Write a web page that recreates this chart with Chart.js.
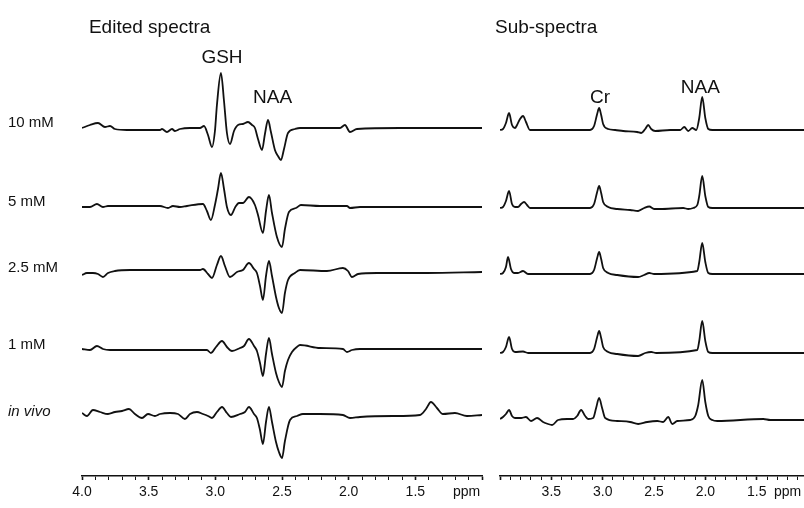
<!DOCTYPE html>
<html>
<head>
<meta charset="utf-8">
<script src="https://cdn.jsdelivr.net/npm/chart.js@4.4.1/dist/chart.umd.min.js"></script>
<style>
  body { margin: 0; background: #fff; }
  #wrap { position: relative; width: 804px; height: 508px; }
  #edited { position: absolute; left: 0; top: 0; }
  #sub { position: absolute; left: 490px; top: 0; }
</style>
</head>
<body>
<div id="wrap">
  <canvas id="edited" width="490" height="508"></canvas>
  <canvas id="sub" width="314" height="508"></canvas>
</div>
<script>
// trace names, top to bottom
const concentrations = ['10 mM', '5 mM', '2.5 mM', '1 mM', 'in vivo'];
const panelTitles = ['Edited spectra', 'Sub-spectra'];
const xTickLabels = ['4.0', '3.5', '3.0', '2.5', '2.0', '1.5'];
const unitLabel = 'ppm';

// edited spectra, [ppm, signal]
const edited10mM = [[4.000,1],[3.940,4],[3.880,6],[3.828,2],[3.790,3],[3.753,0],[3.663,-1],[3.528,-1],[3.415,-1],[3.400,0],[3.363,-3],[3.325,0],[3.303,-2],[3.265,0],[3.190,1],[3.115,1],[3.085,3],[3.055,-6],[3.025,-18],[3.003,-2],[2.988,24],[2.958,56],[2.935,28],[2.913,-4],[2.890,-15],[2.860,-2],[2.830,4],[2.793,5],[2.755,7],[2.725,4],[2.703,1],[2.680,-10],[2.650,-21],[2.628,-5],[2.605,9],[2.583,-3],[2.553,-21],[2.530,-27],[2.508,-31],[2.485,-20],[2.455,-4],[2.403,0],[2.365,1],[2.065,1],[2.028,4],[1.990,-3],[1.938,0],[1.615,1],[1.000,1]];
const edited5mM = [[4.000,0],[3.940,0],[3.888,3],[3.843,0],[3.805,1],[3.768,1],[3.640,1],[3.415,1],[3.355,-1],[3.318,1],[3.265,0],[3.213,1],[3.093,3],[3.063,-4],[3.033,-13],[3.003,2],[2.980,18],[2.958,34],[2.935,18],[2.913,0],[2.883,-8],[2.850,0],[2.823,4],[2.793,4],[2.748,10],[2.703,2],[2.680,-8],[2.643,-26],[2.620,-4],[2.598,12],[2.575,-6],[2.538,-30],[2.500,-40],[2.478,-22],[2.448,-5],[2.395,-1],[2.358,2],[2.215,1],[2.013,1],[1.990,-1],[1.915,0],[1.000,0]];
const edited2_5mM = [[4.000,-4],[3.963,-2],[3.918,-2],[3.880,-3],[3.843,-6],[3.805,-2],[3.753,0],[3.640,1],[3.415,1],[3.115,1],[3.093,2],[3.055,-3],[3.025,-7],[2.988,6],[2.958,15],[2.928,5],[2.890,-6],[2.838,-1],[2.793,1],[2.748,8],[2.710,2],[2.688,-2],[2.665,-15],[2.643,-29],[2.620,-5],[2.598,10],[2.575,-5],[2.545,-26],[2.523,-37],[2.500,-42],[2.478,-22],[2.455,-9],[2.403,-2],[2.365,1],[2.163,0],[2.043,3],[2.005,0],[1.975,-6],[1.930,-3],[1.788,-2],[1.413,-2],[1.000,-1]];
const edited1mM = [[4.000,0],[3.940,-1],[3.888,3],[3.843,0],[3.790,-1],[3.565,-1],[3.340,-1],[3.115,-1],[3.063,-1],[3.033,-4],[2.995,2],[2.950,8],[2.913,2],[2.875,-2],[2.815,1],[2.785,3],[2.748,10],[2.710,3],[2.688,-2],[2.665,-14],[2.643,-27],[2.620,-5],[2.598,11],[2.575,-5],[2.545,-24],[2.523,-33],[2.500,-38],[2.478,-22],[2.455,-11],[2.425,-3],[2.388,2],[2.365,4],[2.215,1],[2.043,0],[2.013,-3],[1.975,-1],[1.915,0],[1.000,0]];
const editedInVivo = [[4.000,1],[3.963,-2],[3.918,4],[3.865,2],[3.805,0],[3.753,2],[3.700,3],[3.648,5],[3.603,0],[3.550,-4],[3.505,0],[3.453,-2],[3.415,0],[3.340,1],[3.280,0],[3.228,-5],[3.190,0],[3.138,2],[3.093,0],[3.055,-2],[3.025,-4],[2.988,2],[2.950,7],[2.913,1],[2.883,-3],[2.815,0],[2.778,2],[2.748,7],[2.710,0],[2.688,-4],[2.665,-16],[2.643,-30],[2.620,-8],[2.598,7],[2.575,-8],[2.545,-28],[2.523,-38],[2.500,-44],[2.478,-27],[2.440,-6],[2.388,-2],[2.343,0],[2.215,0],[2.043,-1],[1.990,-4],[1.915,-3],[1.668,-2],[1.465,-1],[1.420,5],[1.383,12],[1.338,6],[1.293,0],[1.203,1],[1.113,-2],[1.000,-1]];

// sub-spectra, [ppm, signal]
const sub10mM = [[4.000,0],[3.971,1],[3.942,7],[3.912,17],[3.883,5],[3.854,2],[3.834,5],[3.805,11],[3.776,14],[3.747,8],[3.708,0],[3.610,0],[3.123,0],[3.084,4],[3.054,16],[3.035,22],[3.015,15],[2.996,6],[2.947,1],[2.879,0],[2.801,-1],[2.664,-2],[2.625,-3],[2.586,1],[2.557,5],[2.528,1],[2.489,-1],[2.343,0],[2.245,0],[2.206,3],[2.167,-1],[2.128,2],[2.089,0],[2.060,12],[2.031,33],[2.001,12],[1.972,1],[1.933,0],[1.040,0]];
const sub5mM = [[4.000,0],[3.971,1],[3.942,7],[3.912,17],[3.883,4],[3.854,1],[3.825,1],[3.795,4],[3.766,6],[3.737,3],[3.708,0],[3.123,0],[3.084,4],[3.054,16],[3.035,22],[3.015,15],[2.996,6],[2.947,1],[2.859,-1],[2.733,-2],[2.655,-3],[2.596,0],[2.547,1.5],[2.499,-1],[2.440,-1],[2.216,0],[2.167,-1],[2.118,0],[2.079,3],[2.060,12],[2.031,32],[2.001,12],[1.972,1],[1.933,0],[1.040,0]];
const sub2_5mM = [[4.000,0],[3.971,1],[3.942,7],[3.922,17],[3.893,5],[3.864,1],[3.825,1],[3.776,3],[3.727,0],[3.123,0],[3.084,4],[3.054,16],[3.035,22],[3.015,15],[2.996,6],[2.947,1],[2.859,-1],[2.655,-3],[2.596,-1],[2.547,1],[2.499,0],[2.079,3],[2.060,12],[2.031,31],[2.001,12],[1.972,1],[1.933,0],[1.040,0]];
const sub1mM = [[4.000,0],[3.971,1],[3.942,6],[3.912,16],[3.883,4],[3.854,1],[3.776,1.5],[3.727,0],[3.123,0],[3.084,4],[3.054,16],[3.035,22],[3.015,15],[2.996,6],[2.947,1],[2.859,-1],[2.655,-3],[2.586,0],[2.528,1],[2.479,0],[2.079,3],[2.060,12],[2.031,32],[2.001,12],[1.972,1],[1.933,0],[1.040,0]];
const subInVivo = [[4.000,1],[3.971,3],[3.942,6],[3.912,10],[3.883,4],[3.854,2],[3.795,2],[3.747,3],[3.698,-1],[3.639,2],[3.581,-2],[3.532,-4],[3.493,-5],[3.435,0],[3.347,1],[3.288,1],[3.249,4],[3.210,10],[3.171,4],[3.142,1],[3.093,2],[3.064,12],[3.035,22],[3.006,12],[2.976,2],[2.859,-1],[2.733,-2],[2.655,-4],[2.567,-2],[2.469,-1],[2.411,-2],[2.362,3],[2.323,-4],[2.274,-1],[2.148,0],[2.099,4],[2.070,15],[2.031,40],[2.001,18],[1.972,4],[1.933,0],[1.884,-1],[1.436,1],[1.368,0],[1.040,0]];

const editedTraces = [edited10mM, edited5mM, edited2_5mM, edited1mM, editedInVivo];
const subTraces = [sub10mM, sub5mM, sub2_5mM, sub1mM, subInVivo];

// layout: vertical stacking of the traces, label placement
const editedBaselines = [347, 269, 205, 127, 62];
const subBaselines = [346, 268, 202, 123, 56];
const labelLevels = [353, 274, 208, 131, 64];
const yTop = 476;
const FONT = '"Liberation Sans", Arial, Helvetica, sans-serif';
const INK = '#111';

Chart.defaults.font.family = FONT;
Chart.defaults.color = INK;

const textPlugin = {
  id: 'peakText',
  afterDraw(chart, args, opts) {
    const { ctx, scales: { x, y } } = chart;
    ctx.save();
    ctx.fillStyle = INK;
    ctx.textBaseline = 'alphabetic';
    opts.items.forEach(it => {
      ctx.font = `19px ${FONT}`;
      ctx.textAlign = it.align || 'center';
      ctx.fillText(it.text, x.getPixelForValue(it.ppm), y.getPixelForValue(it.level));
    });
    ctx.restore();
  }
};

function makeDatasets(traces, baselines) {
  return traces.map((tr, i) => ({
    label: concentrations[i],
    data: tr.map(([p, v]) => ({ x: p, y: v + baselines[i] })),
    borderColor: INK,
    borderWidth: 1.8,
    pointRadius: 0,
    fill: false,
    cubicInterpolationMode: 'monotone'
  }));
}

function isMajor(v) {
  return Math.abs(v * 2 - Math.round(v * 2)) < 1e-6;
}

function xScale(min, ppmAt, firstLabelled) {
  return {
    type: 'linear',
    reverse: true,
    min: min,
    max: 4.0,
    afterBuildTicks: s => {
      const t = [];
      for (let k = 40; k >= 10; k--) {
        if (k / 10 >= min - 1e-6) t.push({ value: k / 10 });
      }
      // unit label slotted in just before the last tick
      t.splice(t.length - 1, 0, { value: ppmAt, unit: true });
      s.ticks = t;
    },
    afterFit: s => { s.height = 32; },
    grid: {
      drawOnChartArea: false,
      drawTicks: true,
      tickLength: 4,
      tickColor: c => (c.tick && c.tick.unit ? 'rgba(0,0,0,0)' : INK),
      tickWidth: c => (c.tick && isMajor(c.tick.value) ? 1.6 : 1)
    },
    border: { display: true, color: INK, width: 1.6 },
    ticks: {
      autoSkip: false,
      maxRotation: 0,
      padding: 4,
      color: INK,
      font: { size: 14 },
      callback: function (v, i, ticks) {
        if (ticks[i].unit) return unitLabel;
        if (!isMajor(v)) return '';
        const lbl = v.toFixed(1);
        return xTickLabels.includes(lbl) && v <= firstLabelled + 1e-6 ? lbl : '';
      }
    }
  };
}

new Chart(document.getElementById('edited'), {
  type: 'line',
  data: { datasets: makeDatasets(editedTraces, editedBaselines) },
  plugins: [textPlugin],
  options: {
    responsive: false,
    animation: false,
    devicePixelRatio: 1,
    layout: { padding: { left: 8, right: 8, top: 0, bottom: 0 } },
    plugins: {
      legend: { display: false },
      tooltip: { enabled: false },
      peakText: {
        items: [
          { text: panelTitles[0], ppm: 3.948, level: 443, align: 'left' },
          { text: 'GSH', ppm: 2.95, level: 413 },
          { text: 'NAA', ppm: 2.571, level: 373 }
        ]
      }
    },
    scales: {
      x: xScale(1.0, 1.115, 4.0),
      y: {
        min: 0,
        max: yTop,
        afterBuildTicks: s => { s.ticks = labelLevels.map(v => ({ value: v })); },
        afterFit: s => { s.width = 74; s.paddingTop = 0; s.paddingBottom = 0; },
        grid: { display: false, drawTicks: false },
        border: { display: false },
        ticks: {
          crossAlign: 'far',
          padding: 0,
          color: INK,
          font: c => ({ size: 15, style: c.index === 4 ? 'italic' : 'normal' }),
          callback: (v, i) => concentrations[i]
        }
      }
    }
  }
});

new Chart(document.getElementById('sub'), {
  type: 'line',
  data: { datasets: makeDatasets(subTraces, subBaselines) },
  plugins: [textPlugin],
  options: {
    responsive: false,
    animation: false,
    devicePixelRatio: 1,
    layout: { padding: { left: 10, right: 0, top: 0, bottom: 0 } },
    plugins: {
      legend: { display: false },
      tooltip: { enabled: false },
      peakText: {
        items: [
          { text: panelTitles[1], ppm: 4.049, level: 443, align: 'left' },
          { text: 'Cr', ppm: 3.025, level: 373 },
          { text: 'NAA', ppm: 2.05, level: 383 }
        ]
      }
    },
    scales: {
      x: xScale(1.04, 1.2, 3.5),
      y: { display: false, min: 0, max: yTop }
    }
  }
});
</script>
</body>
</html>
